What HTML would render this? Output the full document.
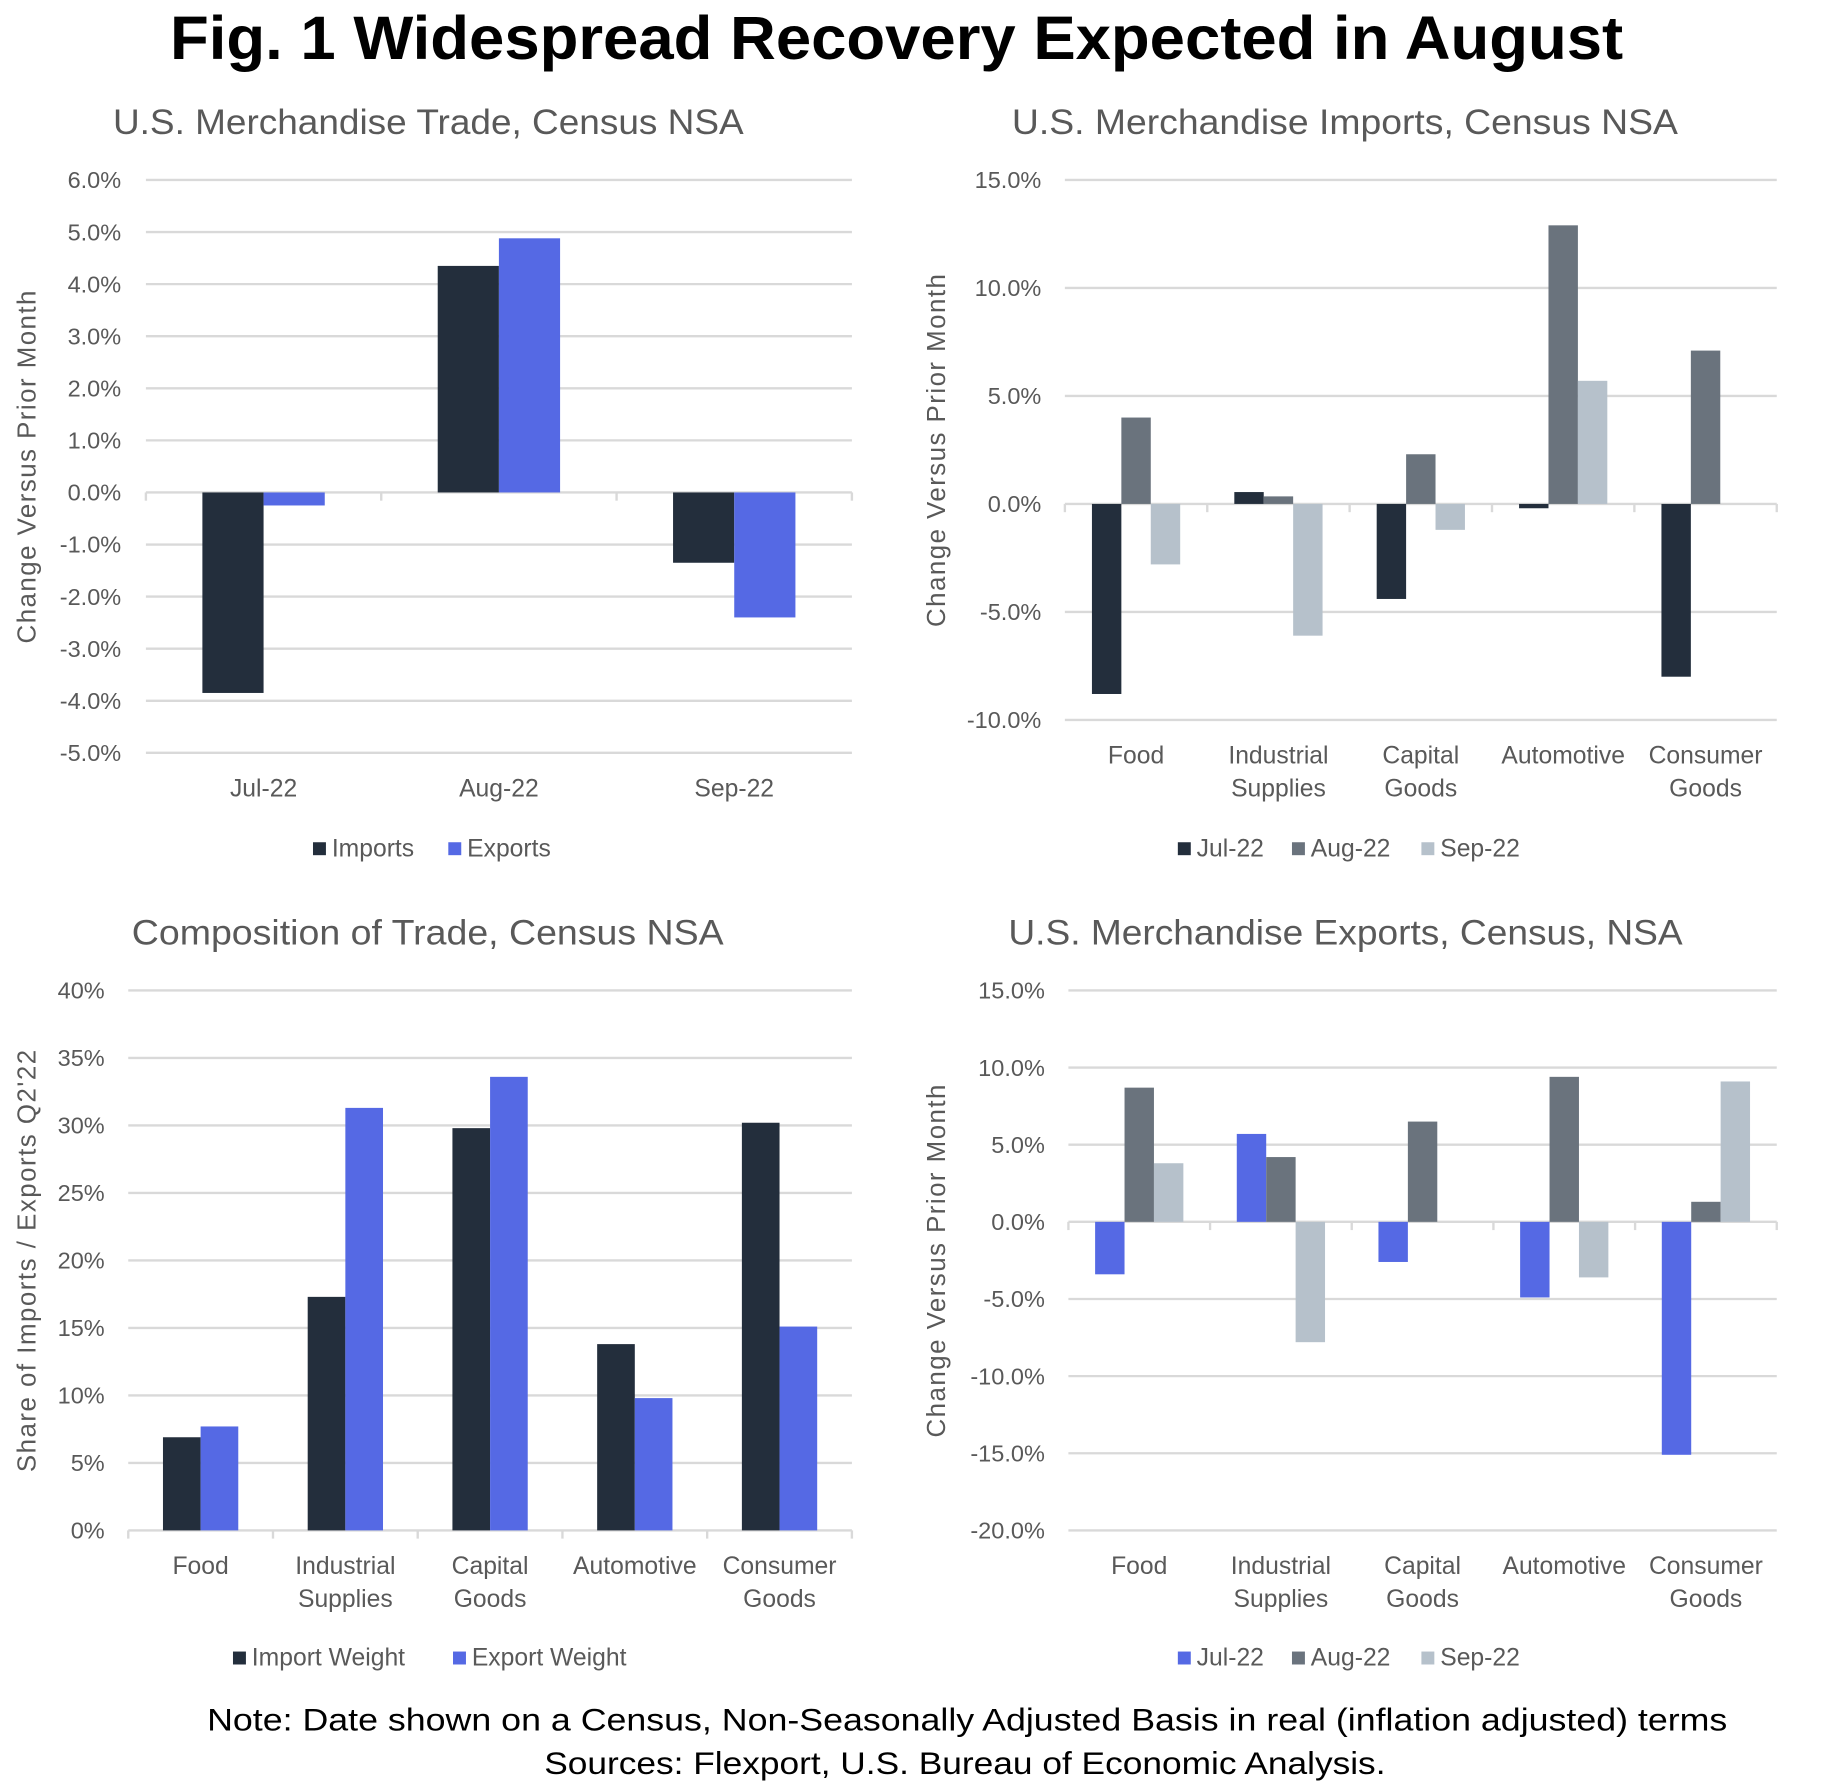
<!DOCTYPE html>
<html><head><meta charset="utf-8"><style>
html,body{margin:0;padding:0;background:#fff;}
svg{display:block;font-family:"Liberation Sans",sans-serif;}
</style></head><body>
<svg id="fig" width="1845" height="1788" viewBox="0 0 1568 1520" preserveAspectRatio="none" xmlns="http://www.w3.org/2000/svg">
<text x="762" y="50" text-anchor="middle" font-size="52" font-weight="bold" fill="#000" textLength="1235" lengthAdjust="spacingAndGlyphs">Fig. 1 Widespread Recovery Expected in August</text>
<text x="822" y="1471" text-anchor="middle" font-size="27" fill="#000" textLength="1292" lengthAdjust="spacingAndGlyphs">Note: Date shown on a Census, Non-Seasonally Adjusted Basis in real (inflation adjusted) terms</text>
<text x="820" y="1508" text-anchor="middle" font-size="27" fill="#000" textLength="715" lengthAdjust="spacingAndGlyphs">Sources: Flexport, U.S. Bureau of Economic Analysis.</text>
</svg>
<script>
// Chart 1: trade
const tradeCats = ["Jul-22","Aug-22","Sep-22"];
const tradeImports = [-3.85, 4.35, -1.35];
const tradeExports = [-0.25, 4.88, -2.4];
const tradeTicks = [6,5,4,3,2,1,0,-1,-2,-3,-4,-5];
// Chart 2: imports
const impCats = [["Food"],["Industrial","Supplies"],["Capital","Goods"],["Automotive"],["Consumer","Goods"]];
const impJul = [-8.8, 0.55, -4.4, -0.2, -8.0];
const impAug = [4.0, 0.35, 2.3, 12.9, 7.1];
const impSep = [-2.8, -6.1, -1.2, 5.7, 0];
const impTicks = [15,10,5,0,-5,-10];
// Chart 3: composition
const compCats = [["Food"],["Industrial","Supplies"],["Capital","Goods"],["Automotive"],["Consumer","Goods"]];
const compImport = [6.9, 17.3, 29.8, 13.8, 30.2];
const compExport = [7.7, 31.3, 33.6, 9.8, 15.1];
const compTicks = [40,35,30,25,20,15,10,5,0];
// Chart 4: exports
const expCats = [["Food"],["Industrial","Supplies"],["Capital","Goods"],["Automotive"],["Consumer","Goods"]];
const expJul = [-3.4, 5.7, -2.6, -4.9, -15.1];
const expAug = [8.7, 4.2, 6.5, 9.4, 1.3];
const expSep = [3.8, -7.8, 0, -3.6, 9.1];
const expTicks = [15,10,5,0,-5,-10,-15,-20];

const NS="http://www.w3.org/2000/svg";
const svg=document.getElementById('fig');
function el(tag,attrs,parent,text){
  const e=document.createElementNS(NS,tag);
  for(const k in attrs) e.setAttribute(k,attrs[k]);
  if(text!==undefined) e.textContent=text;
  (parent||svg).appendChild(e);
  return e;
}
const C={dark:"#232e3c",blue:"#5569e4",gray:"#6a737d",light:"#b6c1cb",grid:"#d9d9d9",txt:"#595959"};

function chart(o){
  const g=el('g',{});
  
  
  const t=el('text',{x:o.titleX,y:o.titleY,'font-size':30,fill:C.txt,textLength:o.titleW,lengthAdjust:'spacingAndGlyphs'},g,o.title);
  
  
  const tmax=o.ticks[0], tmin=o.ticks[o.ticks.length-1];
  const y=v=>o.y0+(tmax-v)*(o.y1-o.y0)/(tmax-tmin);
  o.ticks.forEach(v=>{
    const ln=el('line',{x1:o.x0,x2:o.x1,y1:y(v),y2:y(v),stroke:C.grid,'stroke-width':2},g);
    
    
    const lb=el('text',{x:o.labelX,y:y(v)+7,'text-anchor':'end','font-size':20,fill:C.txt},g,o.fmt(v));
    
    
  });
  const n=o.cats.length, cw=(o.x1-o.x0)/n;
  const zy=y(Math.max(tmin,0));
  for(let i=0;i<=n;i++){
    const tk=el('line',{x1:o.x0+i*cw,x2:o.x0+i*cw,y1:zy,y2:zy+7,stroke:C.grid,'stroke-width':2},g);
    
    
  }
  const ns=o.series.length;
  o.cats.forEach((c,i)=>{
    const cx=o.x0+(i+0.5)*cw;
    o.series.forEach((s,j)=>{
      const v=s.data[i]; if(v===0) return;
      const bx=cx-ns*o.bw/2+j*o.bw;
      const r=el('rect',{x:bx,y:Math.min(y(v),y(0)),width:o.bw,height:Math.abs(y(v)-y(0)),fill:s.color},g);
      
      
    });
    const lines=Array.isArray(c)?c:[c];
    lines.forEach((ln,k)=>{
      const ct=el('text',{x:cx,y:o.catY+k*28,'text-anchor':'middle','font-size':21,fill:C.txt},g,ln);
      
      
    });
  });
  const yt=el('text',{x:0,y:0,'text-anchor':'middle','font-size':22,fill:C.txt,textLength:o.ytW,lengthAdjust:'spacing',transform:`translate(${o.ytX},${o.ytY}) rotate(-90)`},g,o.yTitle);
  
  
  o.series.forEach((s,j)=>{
    const lx=o.legX[j];
    const sq=el('rect',{x:lx,y:o.legY-12,width:11,height:11,fill:s.color},g);
    
    
    const lt=el('text',{x:lx+16,y:o.legY,'font-size':21,fill:C.txt},g,s.label);
    
    
  });
}
const pct1=v=>v.toFixed(1)+'%';
chart({name:'trade-chart',title:'U.S. Merchandise Trade, Census NSA',titleX:96,titleY:114,titleW:536,
  ticks:tradeTicks,y0:153,y1:640,x0:124,x1:724,labelX:103,fmt:pct1,cats:tradeCats,bw:52,catY:677,
  series:[{key:'imports',label:'Imports',color:C.dark,data:tradeImports},{key:'exports',label:'Exports',color:C.blue,data:tradeExports}],
  yTitle:'Change Versus Prior Month',ytX:30,ytY:397,ytW:300,legX:[266,381],legY:728});
chart({name:'imports-chart',title:'U.S. Merchandise Imports, Census NSA',titleX:860,titleY:114,titleW:566,
  ticks:impTicks,y0:153,y1:612,x0:905,x1:1510,labelX:885,fmt:pct1,cats:impCats,bw:25,catY:649,
  series:[{key:'jul',label:'Jul-22',color:C.dark,data:impJul},{key:'aug',label:'Aug-22',color:C.gray,data:impAug},{key:'sep',label:'Sep-22',color:C.light,data:impSep}],
  yTitle:'Change Versus Prior Month',ytX:803,ytY:383,ytW:300,legX:[1001,1098,1208],legY:728});
chart({name:'composition-chart',title:'Composition of Trade, Census NSA',titleX:112,titleY:803,titleW:503,
  ticks:compTicks,y0:842,y1:1301,x0:109,x1:724,labelX:89,fmt:v=>v+'%',cats:compCats,bw:32,catY:1338,
  series:[{key:'import-weight',label:'Import Weight',color:C.dark,data:compImport},{key:'export-weight',label:'Export Weight',color:C.blue,data:compExport}],
  yTitle:"Share of Imports / Exports Q2'22",ytX:30,ytY:1072,ytW:359,legX:[198,385],legY:1416});
chart({name:'exports-chart',title:'U.S. Merchandise Exports, Census, NSA',titleX:857,titleY:803,titleW:573,
  ticks:expTicks,y0:842,y1:1301,x0:908,x1:1510,labelX:888,fmt:pct1,cats:expCats,bw:25,catY:1338,
  series:[{key:'jul',label:'Jul-22',color:C.blue,data:expJul},{key:'aug',label:'Aug-22',color:C.gray,data:expAug},{key:'sep',label:'Sep-22',color:C.light,data:expSep}],
  yTitle:'Change Versus Prior Month',ytX:803,ytY:1072,ytW:300,legX:[1001,1098,1208],legY:1416});
</script>
</body></html>
